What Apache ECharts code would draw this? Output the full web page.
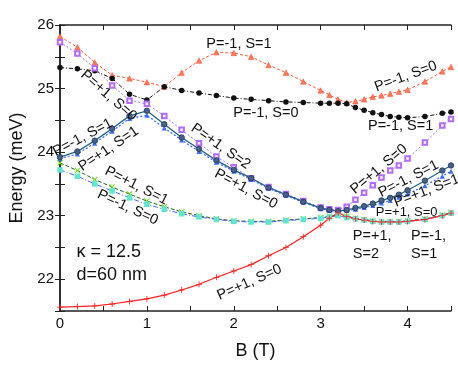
<!DOCTYPE html>
<html>
<head>
<meta charset="utf-8">
<script src="https://cdn.jsdelivr.net/npm/echarts@6/dist/echarts.min.js"></script>
<style>
  html, body { margin: 0; padding: 0; background: #fff; }
  #chart { width: 458px; height: 365px; }
</style>
</head>
<body>
<div id="chart"></div>
<script>
// magnetic field grid (T)
const B = [0, 0.2, 0.4, 0.6, 0.8, 1.0, 1.2, 1.4, 1.6, 1.8, 2.0, 2.2, 2.4, 2.6, 2.8,
  3.0, 3.1, 3.2, 3.3, 3.4, 3.5, 3.6, 3.7, 3.8, 3.9, 4.0, 4.2, 4.4, 4.5];

// energies (meV)
const orangeTri = [25.82, 25.65, 25.41, 25.21, 25.16, 25.10, 25.03, 25.25, 25.44, 25.57, 25.56, 25.50, 25.37, 25.25, 25.11,
  24.97, 24.90, 24.83, 24.78, 24.80, 24.83, 24.87, 24.89, 24.92, 24.95, 24.98, 25.11, 25.27, 25.34];
const blackDot = [25.33, 25.31, 25.28, 25.16, 24.91, 24.82, 25.03, 24.97, 24.93, 24.89, 24.85, 24.83, 24.81, 24.79, 24.78,
  24.77, 24.77, 24.77, 24.76, 24.70, 24.66, 24.62, 24.59, 24.56, 24.55, 24.54, 24.56, 24.61, 24.63];
const violetSq = [25.73, 25.55, 25.32, 25.05, 24.81, 24.76, 24.57, 24.35, 24.14, 23.93, 23.76, 23.59, 23.45, 23.34, 23.23,
  23.13, 23.10, 23.09, 23.14, 23.25, 23.36, 23.48, 23.60, 23.71, 23.79, 23.90, 24.15, 24.42, 24.52];
const blueTri = [23.90, 23.97, 24.14, 24.33, 24.53, 24.58, 24.38, 24.19, 24.01, 23.84, 23.70, 23.57, 23.43, 23.32, 23.21,
  23.11, 23.08, 23.06, 23.08, 23.10, 23.13, 23.16, 23.20, 23.24, 23.29, 23.34, 23.47, 23.62, 23.70];
const navyCirc = [23.92, 24.01, 24.18, 24.37, 24.57, 24.65, 24.44, 24.23, 24.05, 23.87, 23.72, 23.59, 23.44, 23.33, 23.22,
  23.12, 23.09, 23.07, 23.09, 23.12, 23.15, 23.19, 23.24, 23.28, 23.33, 23.40, 23.55, 23.71, 23.79];
const greenX = [23.83, 23.71, 23.57, 23.45, 23.34, 23.23, 23.14, 23.06, 23.00, 22.95, 22.92, 22.91, 22.91, 22.93, 22.95,
  22.97, 22.99, 23.01, 22.99, 22.96, 22.94, 22.92, 22.91, 22.91, 22.91, 22.92, 22.95, 23.01, 23.05];
const cyanSq = [23.72, 23.62, 23.50, 23.39, 23.28, 23.18, 23.10, 23.03, 22.98, 22.94, 22.91, 22.90, 22.90, 22.92, 22.94,
  22.96, 22.98, 23.00, 22.97, 22.95, 22.93, 22.91, 22.90, 22.90, 22.90, 22.91, 22.94, 23.00, 23.04];
const redPlus = [21.56, 21.57, 21.58, 21.61, 21.65, 21.69, 21.75, 21.83, 21.92, 22.03, 22.13, 22.23, 22.37, 22.50, 22.67,
  22.85, 22.96, 23.04, 22.99, 22.95, 22.93, 22.91, 22.90, 22.90, 22.90, 22.91, 22.94, 23.00, 23.04];

// state labels: text, B, E, rotation (deg, ccw)
const LABELS = [
  ["P=-1, S=1", 2.06, 25.70, 0],
  ["P=-1, S=0", 3.98, 25.19, 20],
  ["P=-1, S=0", 2.37, 24.62, 0],
  ["P=-1, S=1", 3.92, 24.41, 0],
  ["P=+1, S=0", 0.56, 24.89, -41],
  ["P=-1, S=1", 0.26, 24.23, 28],
  ["P=+1, S=1", 0.56, 24.05, 34],
  ["P=+1, S=2", 1.85, 24.09, -35],
  ["P=+1, S=0", 2.14, 23.42, -28],
  ["P=+1, S=1", 0.88, 23.47, -27],
  ["P=-1, S=0", 0.78, 23.13, -25],
  ["P=+1, S=0", 2.18, 21.95, 24],
  ["P=+1, S=0", 3.67, 23.73, 40],
  ["P=-1, S=1", 4.01, 23.58, 27],
  ["P=+1, S=1", 4.22, 23.39, 21],
];
// small / multi-line notes: text, B, E, font size, align, vertical align
const NOTES = [
  ["P=+1, S=0", 3.99, 23.05, 13, "center", "middle"],
  ["P=+1,\nS=2", 3.37, 22.83, 14.5, "left", "top"],
  ["P=-1,\nS=1", 4.04, 22.83, 14.5, "left", "top"],
  ["\u03ba = 12.5\nd=60 nm", 0.19, 22.60, 18, "left", "top"],
];

const FONT = '"Liberation Sans", Arial, sans-serif';
const pairs = (ys) => B.map((b, i) => [b, ys[i]]);

const CROSS = "path://M0,1.2L1.2,0L5,3.8L8.8,0L10,1.2L6.2,5L10,8.8L8.8,10L5,6.2L1.2,10L0,8.8L3.8,5Z";
const PLUS = "path://M4.3,0H5.7V4.3H10V5.7H5.7V10H4.3V5.7H0V4.3H4.3Z";

function line(data, color, type, width, symbol, size, itemStyle) {
  return {
    type: "line",
    data: pairs(data),
    symbol,
    symbolSize: size,
    showSymbol: true,
    showAllSymbol: true,
    lineStyle: { color, type, width },
    itemStyle,
    z: 2,
  };
}

const chart = echarts.init(document.getElementById("chart"), null, { renderer: "canvas" });

const axisCommon = {
  axisLine: { show: true, lineStyle: { color: "#222", width: 1.5 } },
  axisTick: { show: true, inside: true, length: 5, lineStyle: { color: "#222", width: 1 } },
  splitLine: { show: false },
};

const option = {
  animation: false,
  backgroundColor: "#fff",
  grid: { left: 55, right: 7, top: 25, bottom: 52 },
  xAxis: [
    {
      ...axisCommon,
      type: "value", min: 0, max: 4.5, interval: 0.5,
      name: "B (T)", nameLocation: "middle", nameGap: 31,
      nameTextStyle: { fontFamily: FONT, fontSize: 18, color: "#111" },
      axisLabel: {
        fontFamily: FONT, fontSize: 15, color: "#111", margin: 5,
        formatter: (v) => (Number.isInteger(v) ? String(v) : ""),
      },
    },
    { ...axisCommon, type: "value", min: 0, max: 4.5, interval: 0.5, position: "top", axisLabel: { show: false } },
  ],
  yAxis: [
    {
      ...axisCommon,
      type: "value", min: 21.5, max: 26, interval: 0.5,
      name: "Energy (meV)", nameLocation: "middle", nameGap: 34,
      nameTextStyle: { fontFamily: FONT, fontSize: 18, color: "#111" },
      axisLabel: {
        fontFamily: FONT, fontSize: 15, color: "#111", margin: 6,
        formatter: (v) => (Math.abs(v - Math.round(v)) < 1e-6 ? String(Math.round(v)) : ""),
      },
    },
    { ...axisCommon, type: "value", min: 21.5, max: 26, interval: 0.5, position: "right", axisLabel: { show: false } },
  ],
  series: [
    line(orangeTri, "#ff5a3c", [3, 2], 1, "triangle", 5.5, { color: "#ff7a5a", borderColor: "#ff4a2a", borderWidth: 0.5 }),
    line(blackDot, "#111", [4, 2, 1, 2], 1, "circle", 5.5, { color: "#111" }),
    line(violetSq, "#8c7cff", [2, 2], 1, "emptyRect", 4.5, { color: "#b36bff", borderColor: "#b36bff", borderWidth: 0.9 }),
    line(blueTri, "#2f62ff", [2, 2], 1.2, "triangle", 5, { color: "#3a6cff" }),
    line(navyCirc, "#1f6486", "solid", 1.3, "circle", 5.5, { color: "#45628f", borderColor: "#223355", borderWidth: 0.8 }),
    line(greenX, "#2f5a2a", [4, 2], 1, CROSS, 6, { color: "#6ee01e" }),
    line(cyanSq, "#4a66ff", [5, 2, 1, 2], 1, "rect", 5.5, { color: "#5ee6cf" }),
    line(redPlus, "#ff2020", "solid", 1.2, PLUS, 6, { color: "#ff2020" }),
  ],
};

chart.setOption(option);

const toPx = (b, e) => chart.convertToPixel({ gridIndex: 0 }, [b, e]);

const graphics = LABELS.map(([text, b, e, rot]) => {
  const [x, y] = toPx(b, e);
  return {
    type: "text", x, y, rotation: (rot * Math.PI) / 180, z: 10,
    style: {
      text, fill: "#111", font: `14.5px ${FONT}`,
      textAlign: "center", textVerticalAlign: "middle", align: "center", verticalAlign: "middle",
    },
  };
}).concat(NOTES.map(([text, b, e, size, align, valign]) => {
  const [x, y] = toPx(b, e);
  return {
    type: "text", x, y, z: 10,
    style: {
      text, fill: "#111", font: `${size}px ${FONT}`, lineHeight: size * 1.25,
      textAlign: align, textVerticalAlign: valign, align, verticalAlign: valign,
    },
  };
}));

chart.setOption({ graphic: graphics });
</script>
</body>
</html>
